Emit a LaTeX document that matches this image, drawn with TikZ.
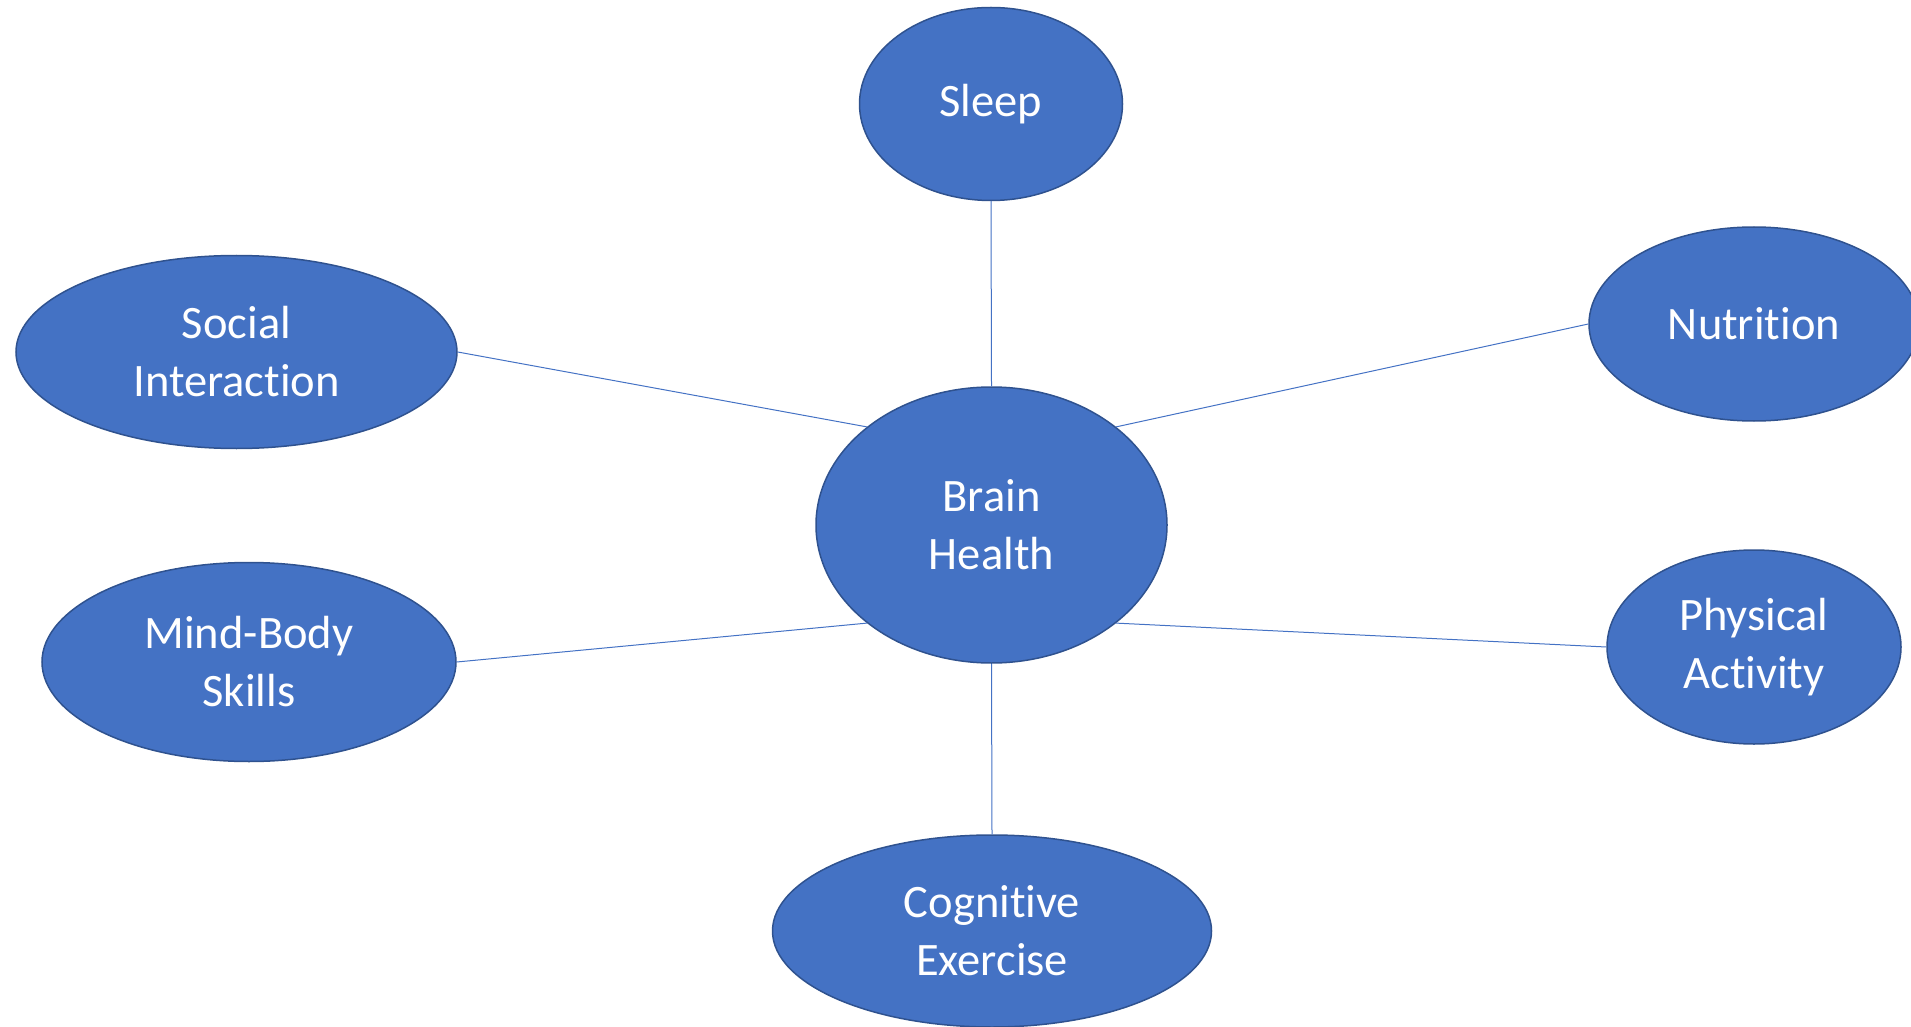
\documentclass[tikz,border=0pt]{standalone}
\usepackage{fontspec}
\setmainfont{Carlito}[Ligatures={NoCommon}]
\usepackage{xcolor}
\usetikzlibrary{shapes.geometric}
\definecolor{officeblue}{HTML}{4472C4}
\definecolor{rimblue}{HTML}{2F528F}

\begin{document}
\begin{tikzpicture}[
		x=0.5pt, y=-0.5pt,
		topic/.style={
			ellipse,
			draw=rimblue,
			fill=officeblue,
			line width=0.75pt,
			text=white,
			align=center,
			inner sep=0pt,
			font=\fontsize{23.25}{29}\selectfont
		},
		link/.style={draw=officeblue, line width=0.5pt}
		]
		\useasboundingbox (0,0) rectangle (1911,1027);
		\clip (0,0) rectangle (1911,1027);
		\node[topic, minimum width=175.5pt, minimum height=138pt] (brain) at (991.5,525) {Brain\\Health};
		\node[topic, minimum width=131.5pt, minimum height=96.5pt] (sleep) at (991,104) {Sleep};
		\node[topic, minimum width=220.5pt, minimum height=96.5pt] (social) at (236.5,352) {Social\\Interaction};
		\node[topic, minimum width=165pt, minimum height=97pt] (nutrition) at (1754,324) {Nutrition};
		\node[topic, minimum width=207pt, minimum height=99.5pt] (mindbody) at (249,662) {Mind-Body\\Skills};
		\node[topic, minimum width=147pt, minimum height=97pt] (physical) at (1754,647) {Physical\\Activity};
		\node[topic, minimum width=219.5pt, minimum height=96pt] (cognitive) at (992,931) {Cognitive\\Exercise};
		
		\draw[link] (brain.north) -- (sleep.south);
		\draw[link] (brain.north west) -- (social.east);
		\draw[link] (brain.north east) -- (nutrition.west);
		\draw[link] (brain.south west) -- (mindbody.east);
		\draw[link] (brain.south east) -- (physical.west);
		\draw[link] (brain.south) -- (cognitive.north);
	\end{tikzpicture}
\end{document}
